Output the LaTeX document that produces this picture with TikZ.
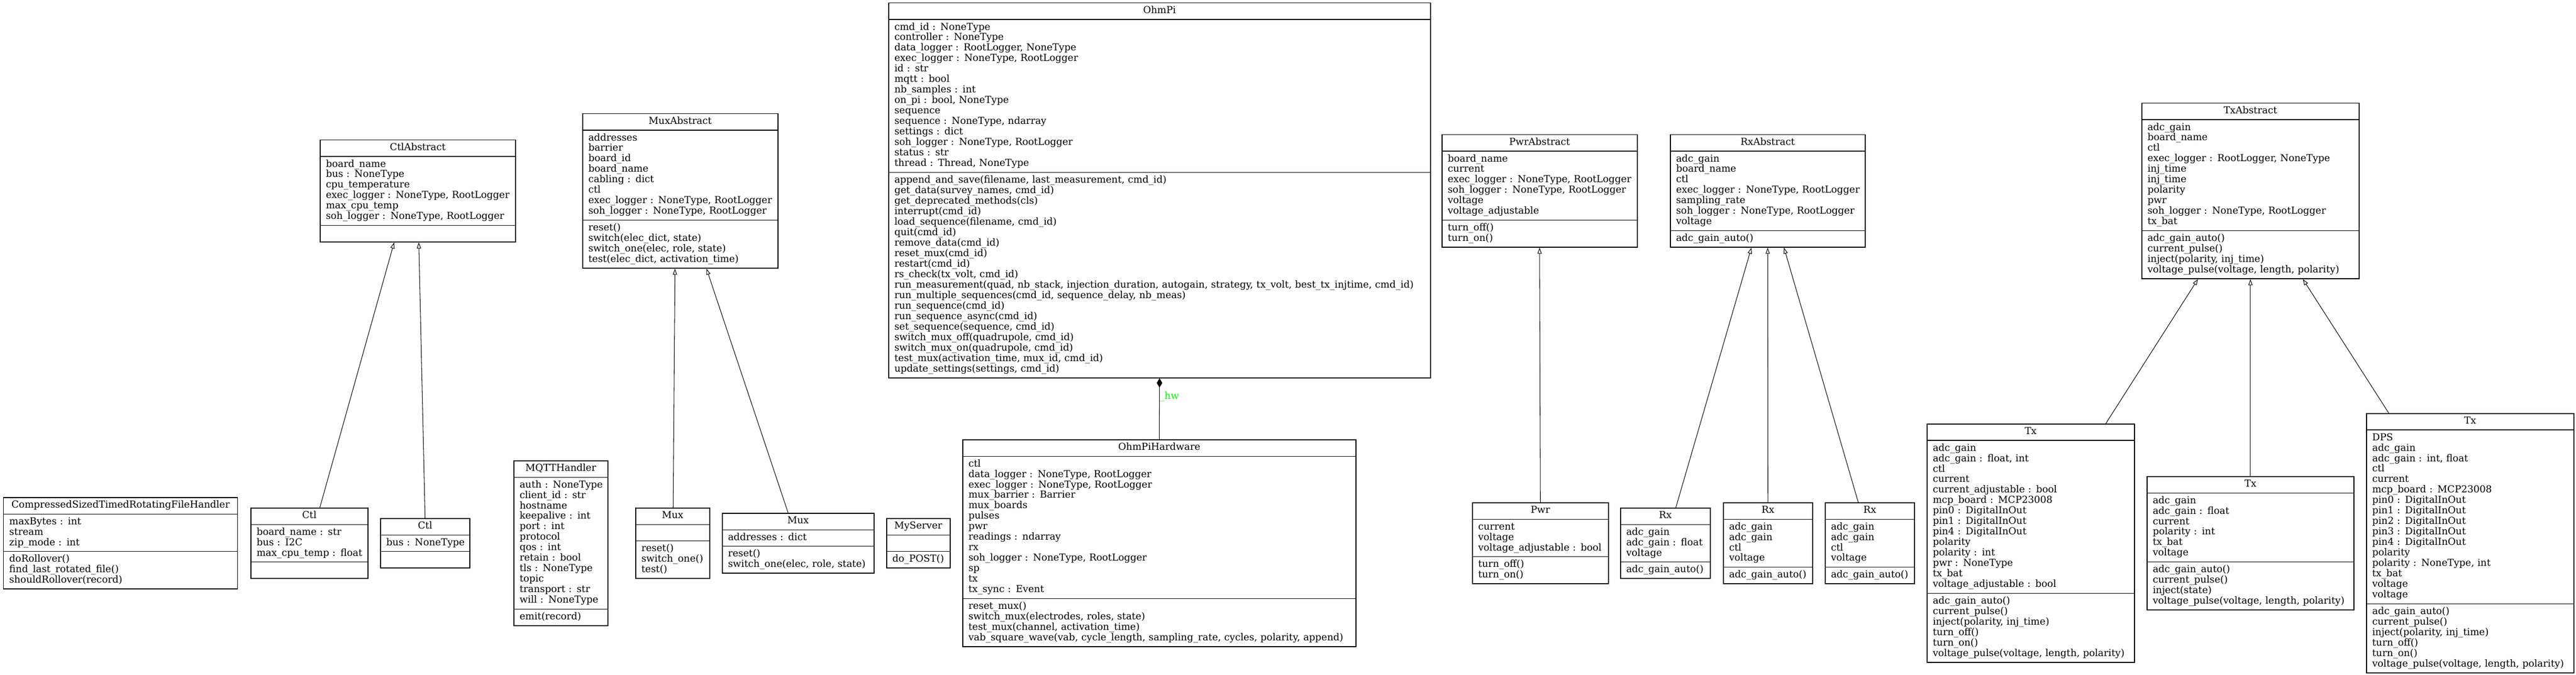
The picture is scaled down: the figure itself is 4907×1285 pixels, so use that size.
\documentclass[tikz,border=0pt]{standalone}
\usepackage{fontspec}
\setmainfont{DejaVu Serif}
\usetikzlibrary{shapes.multipart, arrows.meta, calc}
\hyphenpenalty=10000
\exhyphenpenalty=10000
\definecolor{vert}{RGB}{0,255,0}
\newcommand\umlfont{\fontsize{10.45}{11.38}\selectfont}
\newcommand\st{\rule[-3.4pt]{0pt}{11.38pt}}
\newcommand\dl{\rightskip=-2cm plus 1fil\relax\st}
\newcommand\fl{\st\par}

\begin{document}
\begin{tikzpicture}[x=0.02cm, y=-0.02cm, font=\umlfont,
    classe/.style={draw, line width=0.85pt, rectangle split, rectangle split parts=3,
      align=left, inner xsep=0.22cm, inner ysep=0.1cm, anchor=north west,
      text width=#1*0.02cm-0.44cm},
    herite/.style={line width=0.6pt, -{Triangle[open, length=6.5pt, width=4.5pt]}},
    compo/.style={line width=0.6pt, -{Diamond[length=10pt, width=6pt]}}]
  \useasboundingbox (0,0) rectangle (4907,1285);

  % Classes de base
  \node[classe=372] (ctlabs) at (609,266) {\hfill\st CtlAbstract\hfill\null
    \nodepart{two}\dl board\_name\\bus : NoneType\\cpu\_temperature\\exec\_logger : NoneType, RootLogger\\max\_cpu\_temp\\soh\_logger : NoneType, RootLogger\fl
    \nodepart{three}\st};
  \node[classe=372] (muxabs) at (1109,216) {\hfill\st MuxAbstract\hfill\null
    \nodepart{two}\dl addresses\\barrier\\board\_id\\board\_name\\cabling : dict\\ctl\\exec\_logger : NoneType, RootLogger\\soh\_logger : NoneType, RootLogger\fl
    \nodepart{three}\dl reset()\\switch(elec\_dict, state)\\switch\_one(elec, role, state)\\test(elec\_dict, activation\_time)\fl};
  \node[classe=1032] (ohmpi) at (1692,5) {\hfill\st OhmPi\hfill\null
    \nodepart{two}\dl cmd\_id : NoneType\\controller : NoneType\\data\_logger : RootLogger, NoneType\\exec\_logger : NoneType, RootLogger\\id : str\\mqtt : bool\\nb\_samples : int\\on\_pi : bool, NoneType\\sequence\\sequence : NoneType, ndarray\\settings : dict\\soh\_logger : NoneType, RootLogger\\status : str\\thread : Thread, NoneType\fl
    \nodepart{three}\dl append\_and\_save(filename, last\_measurement, cmd\_id)\\get\_data(survey\_names, cmd\_id)\\get\_deprecated\_methods(cls)\\interrupt(cmd\_id)\\load\_sequence(filename, cmd\_id)\\quit(cmd\_id)\\remove\_data(cmd\_id)\\reset\_mux(cmd\_id)\\restart(cmd\_id)\\rs\_check(tx\_volt, cmd\_id)\\run\_measurement(quad, nb\_stack, injection\_duration, autogain, strategy, tx\_volt, best\_tx\_injtime, cmd\_id)\\run\_multiple\_sequences(cmd\_id, sequence\_delay, nb\_meas)\\run\_sequence(cmd\_id)\\run\_sequence\_async(cmd\_id)\\set\_sequence(sequence, cmd\_id)\\switch\_mux\_off(quadrupole, cmd\_id)\\switch\_mux\_on(quadrupole, cmd\_id)\\test\_mux(activation\_time, mux\_id, cmd\_id)\\update\_settings(settings, cmd\_id)\fl};
  \node[classe=372] (pwrabs) at (2746,256) {\hfill\st PwrAbstract\hfill\null
    \nodepart{two}\dl board\_name\\current\\exec\_logger : NoneType, RootLogger\\soh\_logger : NoneType, RootLogger\\voltage\\voltage\_adjustable\fl
    \nodepart{three}\dl turn\_off()\\turn\_on()\fl};
  \node[classe=371] (rxabs) at (3181,256) {\hfill\st RxAbstract\hfill\null
    \nodepart{two}\dl adc\_gain\\board\_name\\ctl\\exec\_logger : NoneType, RootLogger\\sampling\_rate\\soh\_logger : NoneType, RootLogger\\voltage\fl
    \nodepart{three}\dl adc\_gain\_auto()\fl};
  \node[classe=414] (txabs) at (4079,196) {\hfill\st TxAbstract\hfill\null
    \nodepart{two}\dl adc\_gain\\board\_name\\ctl\\exec\_logger : RootLogger, NoneType\\inj\_time\\inj\_time\\polarity\\pwr\\soh\_logger : NoneType, RootLogger\\tx\_bat\fl
    \nodepart{three}\dl adc\_gain\_auto()\\current\_pulse()\\inject(polarity, inj\_time)\\voltage\_pulse(voltage, length, polarity)\fl};

  % Classes du bas
  \node[classe=446] (handler) at (6,947) {\hfill\st CompressedSizedTimedRotatingFileHandler\hfill\null
    \nodepart{two}\dl maxBytes : int\\stream\\zip\_mode : int\fl
    \nodepart{three}\dl doRollover()\\find\_last\_rotated\_file()\\shouldRollover(record)\fl};
  \node[classe=223] (ctla) at (477,967) {\hfill\st Ctl\hfill\null
    \nodepart{two}\dl board\_name : str\\bus : I2C\\max\_cpu\_temp : float\fl
    \nodepart{three}\st};
  \node[classe=170] (ctlb) at (724,987) {\hfill\st Ctl\hfill\null
    \nodepart{two}\dl bus : NoneType\fl
    \nodepart{three}\st};
  \node[classe=179] (mqtt) at (978,877) {\hfill\st MQTTHandler\hfill\null
    \nodepart{two}\dl auth : NoneType\\client\_id : str\\hostname\\keepalive : int\\port : int\\protocol\\qos : int\\retain : bool\\tls : NoneType\\topic\\transport : str\\will : NoneType\fl
    \nodepart{three}\dl emit(record)\fl};
  \node[classe=141] (muxa) at (1210,967) {\hfill\st Mux\hfill\null
    \nodepart{two}\st
    \nodepart{three}\dl reset()\\switch\_one()\\test()\fl};
  \node[classe=289] (muxb) at (1375,977) {\hfill\st Mux\hfill\null
    \nodepart{two}\dl addresses : dict\fl
    \nodepart{three}\dl reset()\\switch\_one(elec, role, state)\fl};
  \node[classe=121] (server) at (1688,987) {\hfill\st MyServer\hfill\null
    \nodepart{two}\st
    \nodepart{three}\dl do\_POST()\fl};
  \node[classe=749] (hw) at (1833,837) {\hfill\st OhmPiHardware\hfill\null
    \nodepart{two}\dl ctl\\data\_logger : NoneType, RootLogger\\exec\_logger : NoneType, RootLogger\\mux\_barrier : Barrier\\mux\_boards\\pulses\\pwr\\readings : ndarray\\rx\\soh\_logger : NoneType, RootLogger\\sp\\tx\\tx\_sync : Event\fl
    \nodepart{three}\dl reset\_mux()\\switch\_mux(electrodes, roles, state)\\test\_mux(channel, activation\_time)\\vab\_square\_wave(vab, cycle\_length, sampling\_rate, cycles, polarity, append)\fl};
  \node[classe=259] (pwr) at (2804,957) {\hfill\st Pwr\hfill\null
    \nodepart{two}\dl current\\voltage\\voltage\_adjustable : bool\fl
    \nodepart{three}\dl turn\_off()\\turn\_on()\fl};
  \node[classe=171] (rxa) at (3086,967) {\hfill\st Rx\hfill\null
    \nodepart{two}\dl adc\_gain\\adc\_gain : float\\voltage\fl
    \nodepart{three}\dl adc\_gain\_auto()\fl};
  \node[classe=170] (rxb) at (3282,957) {\hfill\st Rx\hfill\null
    \nodepart{two}\dl adc\_gain\\adc\_gain\\ctl\\voltage\fl
    \nodepart{three}\dl adc\_gain\_auto()\fl};
  \node[classe=170] (rxc) at (3476,957) {\hfill\st Rx\hfill\null
    \nodepart{two}\dl adc\_gain\\adc\_gain\\ctl\\voltage\fl
    \nodepart{three}\dl adc\_gain\_auto()\fl};
  \node[classe=395] (txa) at (3670,807) {\hfill\st Tx\hfill\null
    \nodepart{two}\dl adc\_gain\\adc\_gain : float, int\\ctl\\current\\current\_adjustable : bool\\mcp\_board : MCP23008\\pin0 : DigitalInOut\\pin1 : DigitalInOut\\pin4 : DigitalInOut\\polarity\\polarity : int\\pwr : NoneType\\tx\_bat\\voltage\_adjustable : bool\fl
    \nodepart{three}\dl adc\_gain\_auto()\\current\_pulse()\\inject(polarity, inj\_time)\\turn\_off()\\turn\_on()\\voltage\_pulse(voltage, length, polarity)\fl};
  \node[classe=394] (txb) at (4089,907) {\hfill\st Tx\hfill\null
    \nodepart{two}\dl adc\_gain\\adc\_gain : float\\current\\polarity : int\\tx\_bat\\voltage\fl
    \nodepart{three}\dl adc\_gain\_auto()\\current\_pulse()\\inject(state)\\voltage\_pulse(voltage, length, polarity)\fl};
  \node[classe=395] (txc) at (4507,787) {\hfill\st Tx\hfill\null
    \nodepart{two}\dl DPS\\adc\_gain\\adc\_gain : int, float\\ctl\\current\\mcp\_board : MCP23008\\pin0 : DigitalInOut\\pin1 : DigitalInOut\\pin2 : DigitalInOut\\pin3 : DigitalInOut\\pin4 : DigitalInOut\\polarity\\polarity : NoneType, int\\tx\_bat\\voltage\\voltage\fl
    \nodepart{three}\dl adc\_gain\_auto()\\current\_pulse()\\inject(polarity, inj\_time)\\turn\_off()\\turn\_on()\\voltage\_pulse(voltage, length, polarity)\fl};

  % Heritage
  \draw[herite] ($(ctla.north)+(20,0)$) -- ($(ctlabs.south)+(-45,0)$);
  \draw[herite] (ctlb.north) -- ($(ctlabs.south)+(2,0)$);
  \draw[herite] ($(muxa.north)+(1,0)$) -- ($(muxabs.south)+(-10,0)$);
  \draw[herite] ($(muxb.north)+(-19,0)$) -- ($(muxabs.south)+(50,0)$);
  \draw[herite] (pwr.north) -- (pwrabs.south);
  \draw[herite] ($(rxa.north)+(20,0)$) -- ($(rxabs.south)+(-31,0)$);
  \draw[herite] (rxb.north) -- (rxabs.south);
  \draw[herite] ($(rxc.north)+(-22,0)$) -- ($(rxabs.south)+(31,0)$);
  \draw[herite] ($(txa.north)+(143,0)$) -- ($(txabs.south)+(-100,0)$);
  \draw[herite] (txb.north) -- (txabs.south);
  \draw[herite] ($(txc.north)+(-155,0)$) -- ($(txabs.south)+(100,0)$);

  % Composition
  \draw[compo] (hw.north) -- node[pos=0.7, anchor=west, inner sep=0pt, text=vert] (hwlab) {\_hw} (ohmpi.south);
\end{tikzpicture}
\end{document}
